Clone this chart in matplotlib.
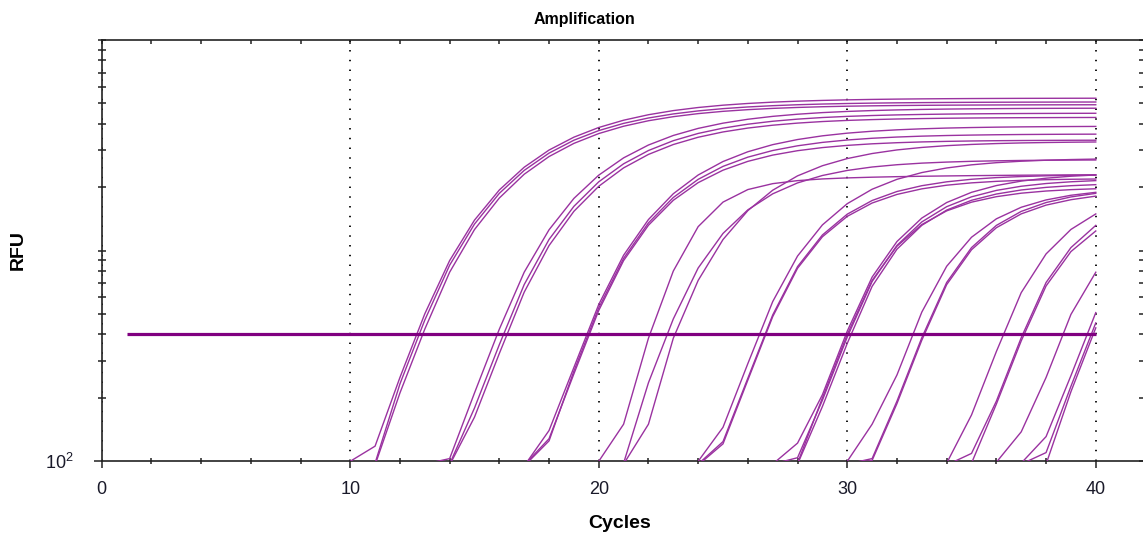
import numpy as np
import matplotlib.pyplot as plt
from matplotlib.ticker import FixedLocator, FixedFormatter, NullFormatter

plt.rcParams['font.family'] = ['Liberation Sans', 'DejaVu Sans']
plt.rcParams['mathtext.default'] = 'regular'

# threshold line (RFU) and the cycles it spans
threshold = 400
threshold_span = [1, 40]

# amplification traces, grouped by dilution
# *_start = first cycle listed, *_rfu = RFU for each cycle from there up to 40
a_start = [10, 11, 11]
a_rfu = [
    [100, 118, 250, 501, 897, 1396, 1941, 2489, 3003, 3457, 3843, 4161, 4418, 4622, 4781, 4904,
     4997, 5070, 5125, 5166, 5199, 5223, 5241, 5255, 5265, 5273, 5279, 5284, 5287, 5290, 5292],
    [98, 233, 468, 853, 1337, 1871, 2404, 2904, 3344, 3715, 4020, 4264, 4457, 4607, 4722,
     4810, 4877, 4928, 4966, 4995, 5016, 5032, 5044, 5053, 5060, 5065, 5069, 5072, 5075, 5077],
    [96, 211, 424, 790, 1259, 1778, 2305, 2797, 3230, 3596, 3896, 4137, 4325, 4472, 4585,
     4670, 4735, 4784, 4822, 4850, 4870, 4885, 4896, 4905, 4911, 4916, 4920, 4923, 4925, 4927],
]

b_start = [13, 14, 14]
b_rfu = [
    [97, 103, 211, 424, 790, 1256, 1770, 2282, 2757, 3173, 3522, 3805, 4029, 4205, 4340, 4443,
     4522, 4580, 4624, 4657, 4682, 4700, 4713, 4723, 4731, 4737, 4741, 4744],
    [97, 179, 358, 690, 1130, 1623, 2122, 2584, 2988, 3327, 3601, 3816, 3984, 4114, 4211,
     4285, 4339, 4380, 4410, 4432, 4449, 4461, 4470, 4477, 4482, 4486, 4489],
    [96, 162, 325, 635, 1057, 1537, 2021, 2471, 2863, 3190, 3454, 3660, 3819, 3940, 4032,
     4101, 4152, 4189, 4217, 4237, 4252, 4263, 4271, 4277, 4281, 4285, 4288],
]

c_start = [17, 17, 17]
c_rfu = [
    [95, 140, 279, 555, 951, 1405, 1863, 2286, 2649, 2948, 3186, 3369, 3508, 3612, 3689, 3746,
     3788, 3819, 3841, 3857, 3869, 3877, 3883, 3888],
    [95, 125, 268, 535, 919, 1354, 1788, 2180, 2512, 2779, 2988, 3146, 3265, 3352, 3416, 3462,
     3496, 3520, 3537, 3550, 3559, 3565, 3570, 3573],
    [96, 128, 260, 520, 897, 1320, 1734, 2103, 2410, 2654, 2842, 2982, 3085, 3160, 3215, 3254,
     3282, 3302, 3316, 3326, 3333, 3338, 3342, 3344],
]

d_start = [20, 21, 21]
d_rfu = [
    [100, 150, 384, 800, 1300, 1700, 1950, 2080, 2150, 2190, 2215, 2232, 2245, 2255, 2263,
     2270, 2276, 2281, 2285, 2288, 2290],
    [98, 236, 474, 827, 1207, 1562, 1861, 2097, 2274, 2403, 2495, 2558, 2603, 2633, 2655,
     2670, 2680, 2687, 2691, 2694],
    [97, 150, 384, 722, 1129, 1549, 1936, 2265, 2530, 2736, 2891, 3007, 3090, 3151, 3193,
     3224, 3246, 3261, 3272, 3280],
]

e_start = [24, 24, 24]
e_rfu = [
    [100, 145, 291, 573, 943, 1325, 1671, 1957, 2181, 2348, 2469, 2555, 2616, 2658, 2687, 2707, 2721],
    [97, 124, 248, 495, 840, 1187, 1490, 1730, 1909, 2034, 2122, 2182, 2222, 2248, 2266, 2278, 2285],
    [96, 121, 243, 486, 825, 1164, 1455, 1683, 1849, 1965, 2045, 2098, 2133, 2156, 2172, 2182, 2188],
]

f_start = [27, 27, 28, 28]
f_rfu = [
    [97, 122, 207, 415, 749, 1105, 1428, 1692, 1892, 2037, 2139, 2208, 2256, 2287],
    [97, 104, 195, 389, 714, 1059, 1369, 1617, 1801, 1932, 2022, 2083, 2123, 2150],
    [97, 182, 363, 677, 1016, 1319, 1558, 1734, 1857, 1941, 1997, 2034, 2057],
    [98, 200, 400, 722, 1050, 1330, 1545, 1699, 1804, 1874, 1919, 1948, 1967],
]

g_start = [30, 30, 30]
g_rfu = [
    [100, 150, 257, 511, 843, 1158, 1416, 1607, 1741, 1832, 1892],
    [97, 103, 193, 386, 706, 1034, 1318, 1536, 1692, 1799, 1871],
    [96, 101, 188, 376, 690, 1010, 1285, 1495, 1645, 1745, 1815],
]

h_start = [34, 34, 35]
h_rfu = [
    [98, 166, 332, 632, 965, 1261, 1494],
    [96, 109, 193, 386, 706, 1034, 1318],
    [98, 187, 373, 680, 990, 1240],
]

i_start = [36, 37, 37, 38]
i_rfu = [
    [99, 138, 250, 498, 790],
    [98, 131, 255, 508],
    [97, 110, 227, 454],
    [97, 214, 430],
]

groups = [(a_start, a_rfu), (b_start, b_rfu), (c_start, c_rfu), (d_start, d_rfu),
          (e_start, e_rfu), (f_start, f_rfu), (g_start, g_rfu), (h_start, h_rfu),
          (i_start, i_rfu)]

curve_color = '#9a32a0'
line_color = '#800080'

fig = plt.figure(figsize=(11.43, 5.38), dpi=100)
ax = fig.add_axes([101.7 / 1143, 76.7 / 538, 1041.3 / 1143, 421.3 / 538])

for starts, traces in groups:
    for start, rfu in zip(starts, traces):
        cyc = np.arange(start, start + len(rfu))
        ax.plot(cyc, rfu, color=curve_color, lw=1.0, zorder=3)

ax.hlines(threshold, threshold_span[0], threshold_span[1], color=line_color, lw=2.3, zorder=4)

ax.set_yscale('log')
ax.set_ylim(100, 10000)
ax.set_xlim(0, 41.9)

# x ticks
ax.set_xticks([0, 10, 20, 30, 40])
ax.set_xticks(np.arange(0, 42, 2), minor=True)
ax.tick_params(axis='x', which='major', direction='out', length=5, width=1.1,
               labelsize=13, pad=9, top=False, colors='#222')
ax.tick_params(axis='x', which='minor', direction='inout', length=4.5, width=1.1, top=False,
               colors='#222')
ax.tick_params(axis='x', labelcolor='#1a1a2a')

# y ticks: only 10^2 gets a label
log_ticks = [m * 10 ** e for e in (2, 3) for m in range(1, 10)] + [10000]
ax.yaxis.set_major_locator(FixedLocator([100]))
ax.yaxis.set_major_formatter(FixedFormatter(['$10^2$']))
ax.yaxis.set_minor_locator(FixedLocator(log_ticks[1:]))
ax.yaxis.set_minor_formatter(NullFormatter())
ax.tick_params(axis='y', which='major', direction='out', length=6, width=1.1,
               labelsize=13, pad=14.5, right=False, colors='#222')
ax.tick_params(axis='y', which='minor', direction='inout', length=6, width=1.1, right=False,
               colors='#222')
ax.tick_params(axis='y', labelcolor='#1a1a2a')

# inward ticks along the top and right edges
top = ax.secondary_xaxis('top')
top.set_xticks(np.arange(0, 42, 2))
top.tick_params(axis='x', direction='in', length=3, width=1.1, labeltop=False, colors='#222')
top.spines['top'].set_visible(False)

right = ax.secondary_yaxis('right')
right.set_yticks(log_ticks)
right.minorticks_off()
right.tick_params(axis='y', direction='in', length=3, width=1.1, labelright=False, colors='#222')
right.spines['right'].set_visible(False)

ax.xaxis.grid(True, which='major', color='k', lw=1.3, linestyle=(0, (0.8, 4.6)))

for side in ['left', 'bottom', 'top']:
    ax.spines[side].set_color('#222')
    ax.spines[side].set_linewidth(1.2)
ax.spines['right'].set_visible(False)

fig.text(584 / 1143, 1 - 24 / 538, 'Amplification', ha='center', va='baseline',
         fontsize=11.5, fontweight='bold')
fig.text(619.5 / 1143, 1 - 528 / 538, 'Cycles', ha='center', va='baseline',
         fontsize=14, fontweight='bold')
fig.text(18 / 1143, 1 - 250 / 538, 'RFU', rotation=90, ha='center', va='center',
         fontsize=14, fontweight='bold')

fig.savefig('out.png', dpi=100)
